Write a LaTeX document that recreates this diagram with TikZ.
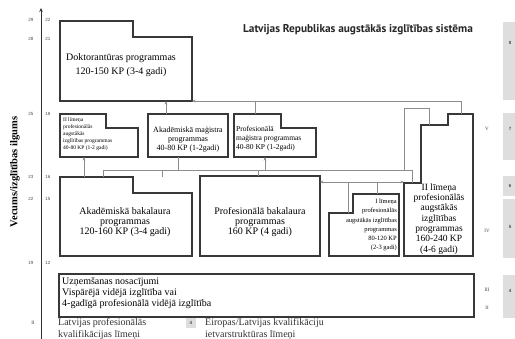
\documentclass[tikz,border=0pt]{standalone}
\usepackage{fontspec}
\setmainfont{Liberation Serif}
\newfontfamily\headfont{PT Sans}
\newfontfamily\labelfont{Liberation Sans}
\usetikzlibrary{arrows.meta}
\begin{document}
\begin{tikzpicture}[x=1pt,y=-1pt,
  box/.style={draw=black!78,line width=1.2pt,line join=miter},
  link/.style={draw=black!45,line width=0.5pt},
  arr/.style={link,-{Stealth[length=3.5pt,width=2.8pt]}},
  both/.style={link,{Stealth[length=3.5pt,width=2.8pt]}-{Stealth[length=3.5pt,width=2.8pt]}},
  txt/.style={inner sep=0pt,align=center},
  tick/.style={inner sep=0pt,font=\labelfont\fontsize{4.5}{5}\selectfont,text=black!70},
  lvl/.style={fill=black!13,draw=none},
  lvlnum/.style={inner sep=0pt,font=\labelfont\bfseries\fontsize{4.5}{5}\selectfont,text=black!70},
  roman/.style={inner sep=0pt,font=\fontsize{5}{6}\selectfont,text=black!75},
  legend/.style={inner sep=0pt,anchor=base west,font=\fontsize{10}{12}\selectfont,text=black!80},
]
\useasboundingbox (0,0) rectangle (515,339);
\fill[white] (0,0) rectangle (515,339);

% ---- axis ----
\coordinate (axB) at (41,339);
\coordinate (axT) at (41,8);
\draw[line width=1pt,black!80,-{Stealth[length=4pt,width=3.5pt]}] (axB) -- (axT);
\foreach \y/\a/\e in {20/29/22,39/28/21,114/25/18,177/23/16,199/22/15,263/19/12}{
  \node[tick] (age\a) at (31,\y) {\a};
  \node[tick] (yr\e) at (48,\y) {\e};
}
\node[rotate=90,inner sep=0pt,font=\bfseries\fontsize{10.5}{12}\selectfont] (axlabel) at (15,172) {Vecums/izglītības ilgums};

% ---- title ----
\node[inner sep=0pt,font=\headfont\bfseries\fontsize{11.3}{12}\selectfont,text=black!85] (title) at (358,30) {Latvijas Republikas augstākās izglītības sistēma};

% ---- programme boxes ----
\draw[box] (60,21) -- (133,21) -- (133,37) -- (192,37) -- (192,101) -- (60,101) -- cycle;
\node[txt,font=\fontsize{10}{14}\selectfont] (dok) at (121,65) {Doktorantūras programmas\\120-150 KP (3-4 gadi)};

\draw[box] (60,114) -- (106,114) -- (106,128) -- (138,128) -- (138,157) -- (60,157) -- cycle;
\node[txt,align=left,anchor=north west,font=\fontsize{5.5}{7}\selectfont] (iism) at (63,117) {II līmeņa\\profesionālās\\augstākās\\izglītības programmas\\40-80 KP (1-2 gadi)};

\draw[box] (148,114) rectangle (228,157);
\node[txt,font=\fontsize{8}{9}\selectfont] (akm) at (188,139) {Akadēmiskā maģistra\\programmas\\40-80 KP (1-2gadi)};

\draw[box] (234,114) -- (281,114) -- (281,128) -- (316,128) -- (316,157) -- (234,157) -- cycle;
\node[txt,align=left,anchor=north west,font=\fontsize{7.5}{9}\selectfont] (pm) at (236,126) {Profesionālā\\maģistra programmas\\40-80 KP (1-2gadi)};

\draw[box] (60,177) -- (133,177) -- (133,193) -- (192,193) -- (192,256) -- (60,256) -- cycle;
\node[txt,font=\fontsize{10}{9.7}\selectfont] (akb) at (125,222) {Akadēmiskā bakalaura\\programmas\\120-160 KP (3-4 gadi)};

\draw[box] (200,176) rectangle (320,256);
\node[txt,font=\fontsize{10}{9.7}\selectfont] (pb) at (260,222) {Profesionālā bakalaura\\programmas\\160 KP (4 gadi)};

\draw[box] (329,213) -- (353,213) -- (353,194) -- (399,194) -- (399,256) -- (329,256) -- cycle;
\node[txt,align=right,anchor=north east,font=\fontsize{6.5}{9.2}\selectfont] (il) at (397,199) {I līmeņa\\profesionālās\\augstākās izglītības\\programmas\\80-120 KP\\(2-3 gadi)};

\draw[box] (404,183) -- (421,183) -- (421,125) -- (448,125) -- (448,114) -- (473,114) -- (473,256) -- (404,256) -- cycle;
\node[txt,font=\fontsize{9.5}{10.3}\selectfont] (iil) at (439,219) {II līmeņa\\profesionālās\\augstākās\\izglītības\\programmas\\160-240 KP\\(4-6 gadi)};

\draw[box] (59,274) rectangle (474,317);
\node[txt,align=left,anchor=north west,font=\fontsize{10}{11}\selectfont] (uzn) at (62,277) {Uzņemšanas nosacījumi\\Vispārējā vidējā izglītība vai\\4-gadīgā profesionālā vidējā izglītība};

% ---- connection points ----
\coordinate (dokB) at (166,101);
\coordinate (dokC) at (192,101);
\coordinate (akmT) at (166,114);
\coordinate (pmT) at (255,114);
\coordinate (pmUp) at (255,101);
\coordinate (iilT) at (461,114);
\coordinate (iilUp) at (461,101);
\coordinate (iismB) at (84,157);
\coordinate (akbTa) at (84,177);
\coordinate (akbTb) at (103,177);
\coordinate (akbTc) at (162,177);
\coordinate (akmB) at (178,157);
\coordinate (pmB) at (265,157);
\coordinate (pbT) at (258,176);
\coordinate (iilStep) at (412,183);
\coordinate (pbR) at (320,182);
\coordinate (iilL) at (404,182);
\coordinate (ilTa) at (348,213);
\coordinate (ilTb) at (377,194);
\coordinate (iilS) at (429,125);

% ---- connectors ----
\draw[arr] (akmT) -- (dokB);
\draw[arr] (iilT) -- (iilUp) -- (dokC);
\draw[link] (pmT) -- (pmUp);

\draw[arr] (akbTa) -- (iismB);
\draw[link] (akbTb) -- (103,170) -- (412,170) -- (iilStep);
\draw[link] (akbTc) -- (162,170);
\draw[link] (akmB) -- (178,170);
\draw[link] (pbT) -- (258,170);
\draw[arr] (265,170) -- (pmB);
\draw[link] (404,170) -- (404,108) -- (429,108) -- (iilS);

\draw[both] (pbR) -- (iilL);
\draw[link] (ilTa) -- (348,182);
\draw[link] (ilTb) -- (377,182);

% ---- qualification levels ----
\node[roman] (rV) at (487,129) {V};
\node[roman] (rIV) at (487,231) {IV};
\node[roman] (rIII) at (487,290) {III};
\node[roman] (rII) at (487,308) {II};

\fill[lvl] (503,22) rectangle (515,100);
\fill[lvl] (503,113) rectangle (515,160);
\fill[lvl] (503,176) rectangle (515,196);
\fill[lvl] (503,199) rectangle (515,258);
\fill[lvl] (503,275) rectangle (515,318);
\node[lvlnum] (q8) at (510,43) {8};
\node[lvlnum] (q7) at (510,129) {7};
\node[lvlnum] (q6) at (510,186) {6};
\node[lvlnum] (q5) at (510,227) {5};
\node[lvlnum] (q4) at (510,291) {4};

% ---- legend ----
\node[roman] (legR) at (33,323) {II};
\node[legend] (legA1) at (58,326) {Latvijas profesionālās};
\node[legend] (legA2) at (58,338) {kvalifikācijas līmeņi};
\fill[lvl] (186,318) rectangle (196,328);
\node[lvlnum] (legQ) at (191,323) {4};
\node[legend] (legB1) at (205,326) {Eiropas/Latvijas kvalifikāciju};
\node[legend] (legB2) at (205,338) {ietvarstruktūras līmeņi};
\end{tikzpicture}
\end{document}
